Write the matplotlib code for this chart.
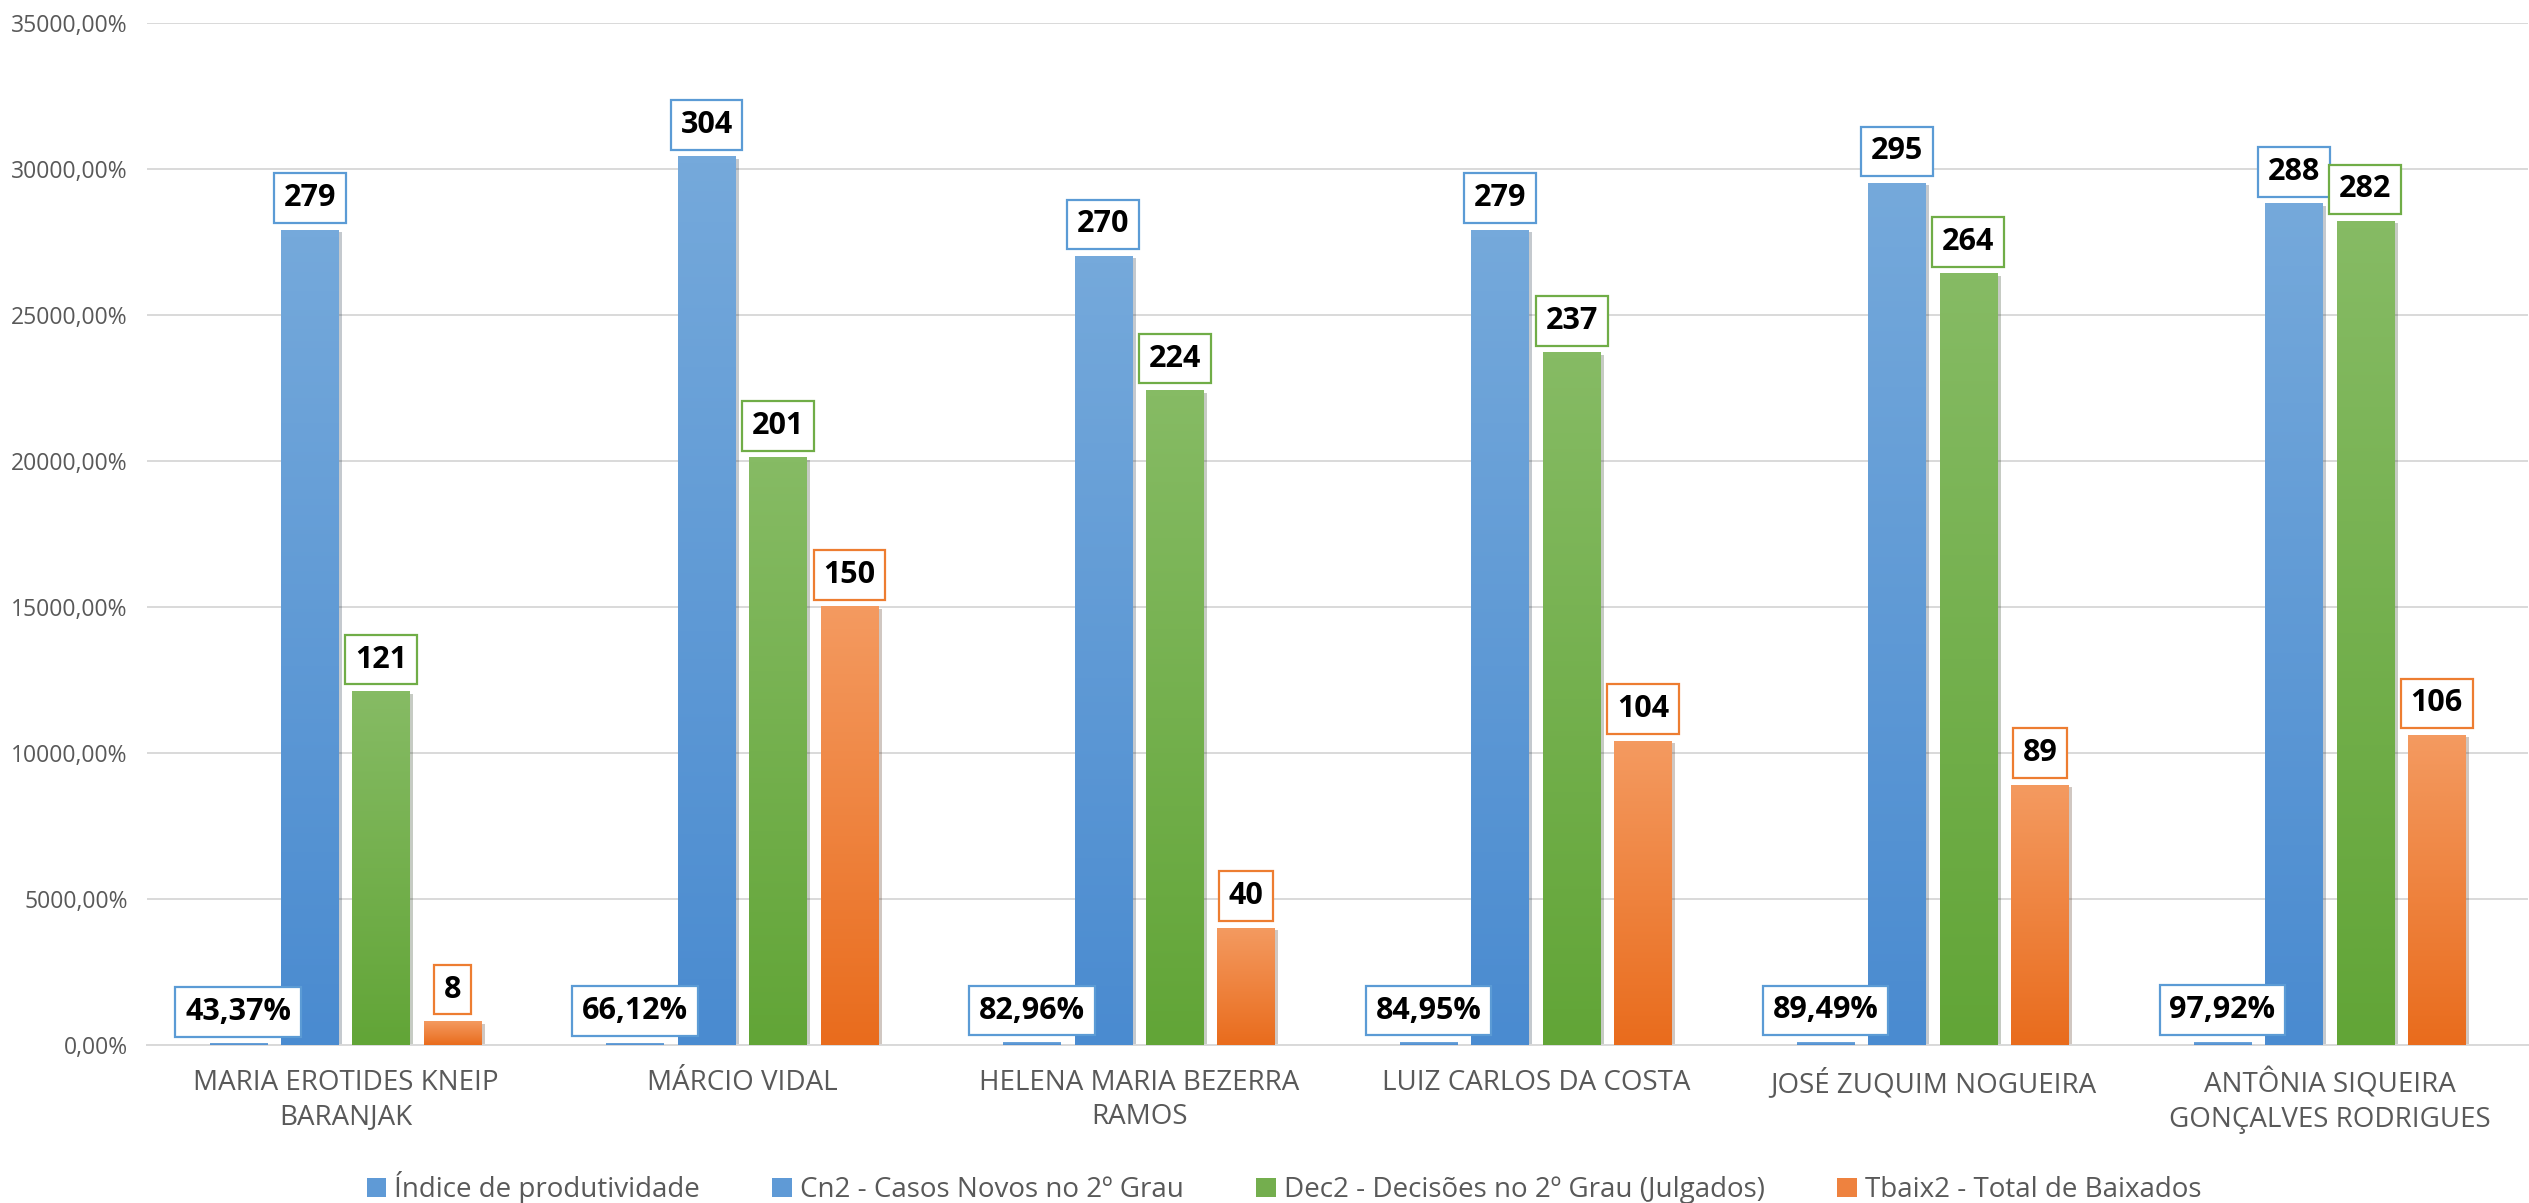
import numpy as np
import matplotlib.pyplot as plt
from matplotlib.patches import Patch
from matplotlib.colors import LinearSegmentedColormap
import matplotlib.patheffects as pe

# dados
juizes = ["MARIA EROTIDES KNEIP\nBARANJAK", "MÁRCIO VIDAL", "HELENA MARIA BEZERRA\nRAMOS",
          "LUIZ CARLOS DA COSTA", "JOSÉ ZUQUIM NOGUEIRA", "ANTÔNIA SIQUEIRA\nGONÇALVES RODRIGUES"]
indice = [0.4337, 0.6612, 0.8296, 0.8495, 0.8949, 0.9792]
cn2 = [279, 304, 270, 279, 295, 288]
dec2 = [121, 201, 224, 237, 264, 282]
tbaix2 = [8, 150, 40, 104, 89, 106]
series_names = ["Índice de produtividade", "Cn2 - Casos Novos no 2º Grau",
                "Dec2 - Decisões no 2º Grau (Julgados)", "Tbaix2 - Total de Baixados"]

grad_blue = ("#75A9DB", "#4A8BD0")
grad_green = ("#86BB64", "#62A537")
grad_orange = ("#F49A60", "#E96C1D")
edge_cols = ["#5B9BD5", "#5B9BD5", "#70AD47", "#ED7D31"]

plt.rcParams['font.family'] = ['Open Sans', 'DejaVu Sans']

fig = plt.figure(figsize=(25.29, 12.03), dpi=100)
ax = fig.add_axes([147 / 2529, 1 - 1045 / 1203, 2381 / 2529, (1045 - 22.6) / 1203])

x = np.arange(len(juizes))
width = 0.145
offsets = [-0.27, -0.09, 0.09, 0.27]
data = [indice, cn2, dec2, tbaix2]
grads = [grad_blue, grad_blue, grad_green, grad_orange]

for vals, off, g, ec in zip(data, offsets, grads, edge_cols):
    cmap = LinearSegmentedColormap.from_list("g", [g[1], g[0]])
    bars = ax.bar(x + off, vals, width, color=g[1], zorder=2,
                  path_effects=[pe.SimplePatchShadow(offset=(2.5, -1.5), alpha=0.25), pe.Normal()])
    for b, v in zip(bars, vals):
        x0 = b.get_x()
        grad = np.linspace(0, 1, 100).reshape(-1, 1)
        ax.imshow(grad, cmap=cmap, origin='lower', aspect='auto',
                  extent=(x0, x0 + width, 0, v), zorder=3, interpolation='bicubic')
        if isinstance(v, float):
            txt = f"{v * 100:.2f}%".replace('.', ',')
        else:
            txt = str(v)
        ax.annotate(txt, (x0 + width / 2, v), xytext=(0, 23), textcoords='offset points',
                    ha='center', va='center', fontsize=22, fontweight='bold', color='black',
                    zorder=5,
                    bbox=dict(boxstyle='square,pad=0.32', fc='white', ec=ec, lw=1.6))

ax.set_xlim(-0.5, len(juizes) - 0.5)
ax.set_ylim(0, 350)
ax.set_yticks(np.arange(0, 351, 50))
ax.set_yticklabels([f"{t * 100:.2f}%".replace('.', ',') for t in np.arange(0, 351, 50)])
ax.set_xticks(x)
ax.set_xticklabels(juizes, linespacing=1.3)
ax.tick_params(axis='y', length=0, labelsize=16.5, labelcolor='#595959', pad=14)
ax.tick_params(axis='x', length=0, labelsize=20, labelcolor='#595959', pad=17)
ax.grid(axis='y', color='#D9D9D9', lw=1.4, zorder=0)
ax.set_axisbelow(True)
for s in ['top', 'right', 'left']:
    ax.spines[s].set_visible(False)
ax.spines['bottom'].set_color('#D9D9D9')
ax.spines['bottom'].set_linewidth(1.4)

handles = [Patch(facecolor=c, edgecolor='none') for c in ["#5F9AD6", "#5F9AD6", "#74AE4E", "#EE823F"]]
fig.legend(handles, series_names, loc='center', bbox_to_anchor=(0.5077, 0.0125), ncol=4,
           frameon=False, fontsize=20, labelcolor='#595959', handlelength=0.7,
           handleheight=0.7, handletextpad=0.3, columnspacing=2.6)

fig.savefig("out.png", dpi=100)
